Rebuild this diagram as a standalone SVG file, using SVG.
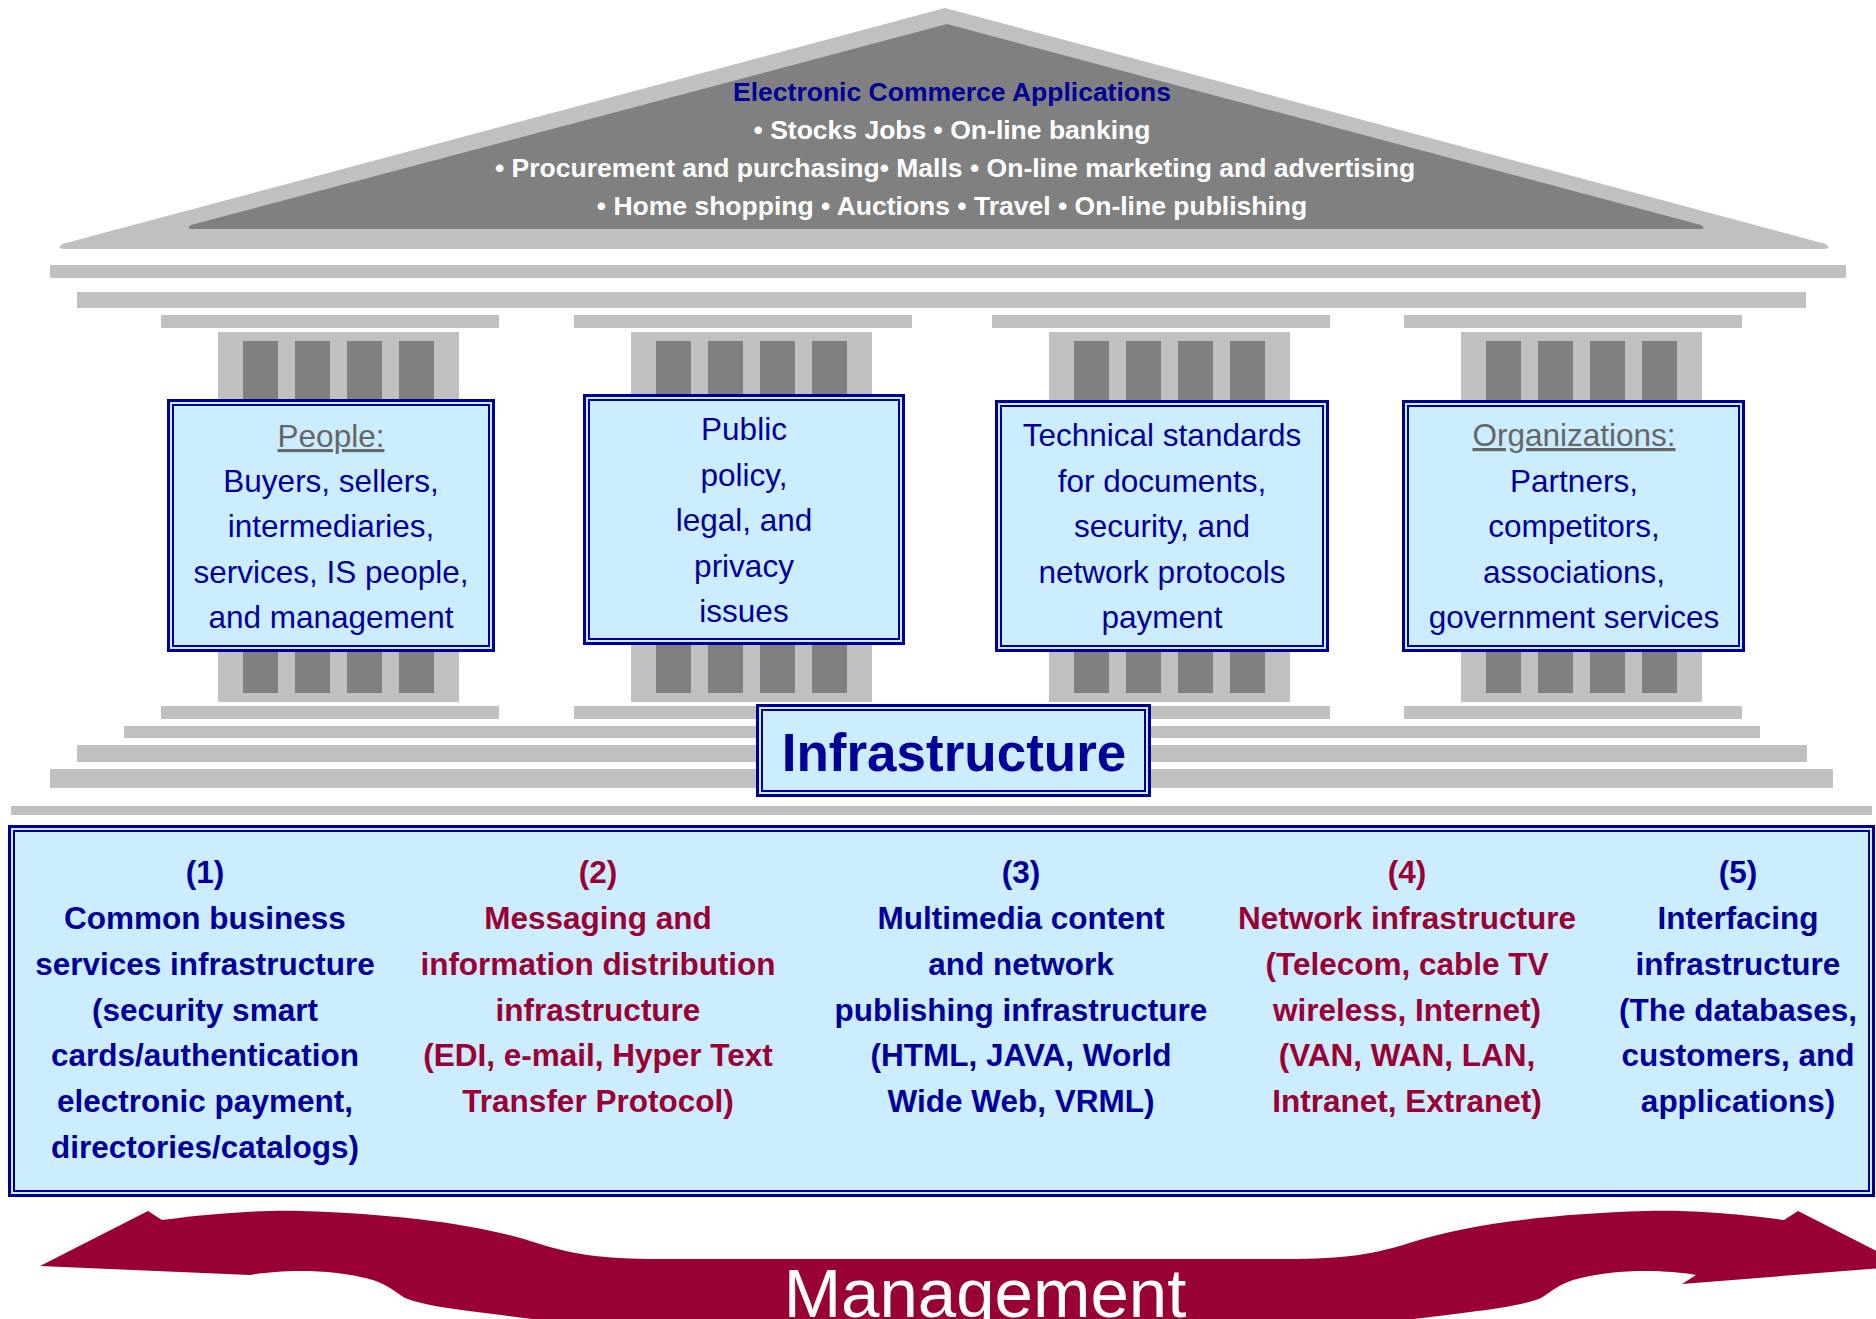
<svg xmlns="http://www.w3.org/2000/svg" width="1876" height="1319" viewBox="0 0 1876 1319">
<style>
.g1{fill:#c0c0c0}
.g2{fill:#808080}
.box{fill:#ccecff;stroke:#000099;stroke-width:3}
.boxin{fill:none;stroke:#000099;stroke-width:2}
text{font-family:"Liberation Sans",Arial,sans-serif;text-anchor:middle}
.ped{font-size:26.5px;font-weight:bold;fill:#ffffff}
.pedt{font-size:26.5px;font-weight:bold;fill:#000099}
.bx{font-size:31.5px;fill:#000099}
.hd{fill:#666666;text-decoration:underline}
.bb{font-size:31.5px;font-weight:bold}
.blue{fill:#000099}
.red{fill:#990033}
</style>
<rect width="1876" height="1319" fill="#ffffff"/>

<g id="pediment">
<path class="g1" d="M945,8 L1826,244 Q1832,249 1824,249 L64,249 Q56,249 62,244 Z"/>
<path class="g2" d="M947,24 L1701,225 Q1707,229 1699,229 L193,229 Q185,229 191,225 Z"/>
<text class="pedt" x="952" y="101">Electronic Commerce Applications</text>
<text class="ped" x="952" y="139">• Stocks Jobs • On-line banking</text>
<text class="ped" x="955" y="177">• Procurement and purchasing• Malls • On-line marketing and advertising</text>
<text class="ped" x="952" y="215">• Home shopping • Auctions • Travel • On-line publishing</text>
</g>

<g id="entablature">
<rect class="g1" x="50" y="265" width="1796" height="13"/>
<rect class="g1" x="77" y="292" width="1729" height="16"/>
</g>

<g id="column1">
<rect class="g1" x="161" y="315" width="338" height="13"/>
<rect class="g1" x="218" y="332" width="241" height="370"/>
<rect class="g2" x="243" y="341" width="35" height="352"/>
<rect class="g2" x="295" y="341" width="35" height="352"/>
<rect class="g2" x="347" y="341" width="35" height="352"/>
<rect class="g2" x="399" y="341" width="35" height="352"/>
<rect class="g1" x="161" y="706" width="338" height="13"/>
</g>
<g id="column2">
<rect class="g1" x="574" y="315" width="338" height="13"/>
<rect class="g1" x="631" y="332" width="241" height="370"/>
<rect class="g2" x="656" y="341" width="35" height="352"/>
<rect class="g2" x="708" y="341" width="35" height="352"/>
<rect class="g2" x="760" y="341" width="35" height="352"/>
<rect class="g2" x="812" y="341" width="35" height="352"/>
<rect class="g1" x="574" y="706" width="338" height="13"/>
</g>
<g id="column3">
<rect class="g1" x="992" y="315" width="338" height="13"/>
<rect class="g1" x="1049" y="332" width="241" height="370"/>
<rect class="g2" x="1074" y="341" width="35" height="352"/>
<rect class="g2" x="1126" y="341" width="35" height="352"/>
<rect class="g2" x="1178" y="341" width="35" height="352"/>
<rect class="g2" x="1230" y="341" width="35" height="352"/>
<rect class="g1" x="992" y="706" width="338" height="13"/>
</g>
<g id="column4">
<rect class="g1" x="1404" y="315" width="338" height="13"/>
<rect class="g1" x="1461" y="332" width="241" height="370"/>
<rect class="g2" x="1486" y="341" width="35" height="352"/>
<rect class="g2" x="1538" y="341" width="35" height="352"/>
<rect class="g2" x="1590" y="341" width="35" height="352"/>
<rect class="g2" x="1642" y="341" width="35" height="352"/>
<rect class="g1" x="1404" y="706" width="338" height="13"/>
</g>

<g id="steps">
<rect class="g1" x="124" y="726" width="1636" height="12"/>
<rect class="g1" x="77" y="745" width="1730" height="17"/>
<rect class="g1" x="50" y="769" width="1783" height="19"/>
<rect class="g1" x="11" y="806" width="1861" height="9"/>
</g>

<g id="people">
<rect class="box" x="168.5" y="400.5" width="325" height="250"/>
<rect class="boxin" x="173" y="405" width="316" height="241"/>
<text class="bx" x="331"><tspan class="hd" x="331" y="447">People:</tspan><tspan x="331" y="492">Buyers, sellers,</tspan><tspan x="331" y="537">intermediaries,</tspan><tspan x="331" y="583">services, IS people,</tspan><tspan x="331" y="628">and management</tspan></text>
</g>

<g id="policy">
<rect class="box" x="584.5" y="395.5" width="319" height="248"/>
<rect class="boxin" x="589" y="400" width="310" height="239"/>
<text class="bx" x="744"><tspan x="744" y="440">Public</tspan><tspan x="744" y="486">policy,</tspan><tspan x="744" y="531">legal, and</tspan><tspan x="744" y="577">privacy</tspan><tspan x="744" y="622">issues</tspan></text>
</g>

<g id="standards">
<rect class="box" x="996.5" y="401.5" width="331" height="249"/>
<rect class="boxin" x="1001" y="406" width="322" height="240"/>
<text class="bx" x="1162"><tspan x="1162" y="446">Technical standards</tspan><tspan x="1162" y="492">for documents,</tspan><tspan x="1162" y="537">security, and</tspan><tspan x="1162" y="583">network protocols</tspan><tspan x="1162" y="628">payment</tspan></text>
</g>

<g id="organizations">
<rect class="box" x="1403.5" y="401.5" width="340" height="249"/>
<rect class="boxin" x="1408" y="406" width="331" height="240"/>
<text class="bx" x="1574"><tspan class="hd" x="1574" y="446">Organizations:</tspan><tspan x="1574" y="492">Partners,</tspan><tspan x="1574" y="537">competitors,</tspan><tspan x="1574" y="583">associations,</tspan><tspan x="1574" y="628">government services</tspan></text>
</g>

<g id="infrastructure">
<rect class="box" x="757.5" y="705.5" width="392" height="90"/>
<rect class="boxin" x="762" y="710" width="383" height="81"/>
<text x="954" y="771" style="font-size:53px;font-weight:bold;fill:#000099">Infrastructure</text>
</g>

<g id="infra-layers">
<rect class="box" x="9.5" y="826.5" width="1864" height="369"/>
<rect class="boxin" x="14" y="831" width="1855" height="360"/>
<text class="bb blue"><tspan x="205" y="883">(1)</tspan><tspan x="205" y="929">Common business</tspan><tspan x="205" y="975">services infrastructure</tspan><tspan x="205" y="1021">(security smart</tspan><tspan x="205" y="1066">cards/authentication</tspan><tspan x="205" y="1112">electronic payment,</tspan><tspan x="205" y="1158">directories/catalogs)</tspan></text>
<text class="bb red"><tspan x="598" y="883">(2)</tspan><tspan x="598" y="929">Messaging and</tspan><tspan x="598" y="975">information distribution</tspan><tspan x="598" y="1021">infrastructure</tspan><tspan x="598" y="1066">(EDI, e-mail, Hyper Text</tspan><tspan x="598" y="1112">Transfer Protocol)</tspan></text>
<text class="bb blue"><tspan x="1021" y="883">(3)</tspan><tspan x="1021" y="929">Multimedia content</tspan><tspan x="1021" y="975">and network</tspan><tspan x="1021" y="1021">publishing infrastructure</tspan><tspan x="1021" y="1066">(HTML, JAVA, World</tspan><tspan x="1021" y="1112">Wide Web, VRML)</tspan></text>
<text class="bb red"><tspan x="1407" y="883">(4)</tspan><tspan x="1407" y="929">Network infrastructure</tspan><tspan x="1407" y="975">(Telecom, cable TV</tspan><tspan x="1407" y="1021">wireless, Internet)</tspan><tspan x="1407" y="1066">(VAN, WAN, LAN,</tspan><tspan x="1407" y="1112">Intranet, Extranet)</tspan></text>
<text class="bb blue"><tspan x="1738" y="883">(5)</tspan><tspan x="1738" y="929">Interfacing</tspan><tspan x="1738" y="975">infrastructure</tspan><tspan x="1738" y="1021">(The databases,</tspan><tspan x="1738" y="1066">customers, and</tspan><tspan x="1738" y="1112">applications)</tspan></text>
</g>

<g id="management">
<path fill="#990033" d="M40,1266 L148,1211 L162,1220 C220,1212 270,1210 300,1211 C400,1214 480,1225 530,1241 C570,1254 600,1259 660,1259 L1286,1259 C1346,1259 1376,1254 1416,1241 C1466,1225 1546,1214 1646,1211 C1676,1210 1726,1212 1784,1220 L1798,1211 L1906,1266 L1682,1284 L1696,1275 C1666,1270 1616,1268 1573,1280 C1556,1286 1551,1292 1541,1298 C1516,1308 1466,1312 1406,1320 L1406,1330 L540,1330 L540,1320 C480,1312 430,1308 405,1298 C395,1292 390,1286 373,1280 C330,1268 280,1270 250,1275 Z"/>
<text x="985" y="1317" style="font-size:69px;fill:#ffffff">Management</text>
</g>
</svg>
